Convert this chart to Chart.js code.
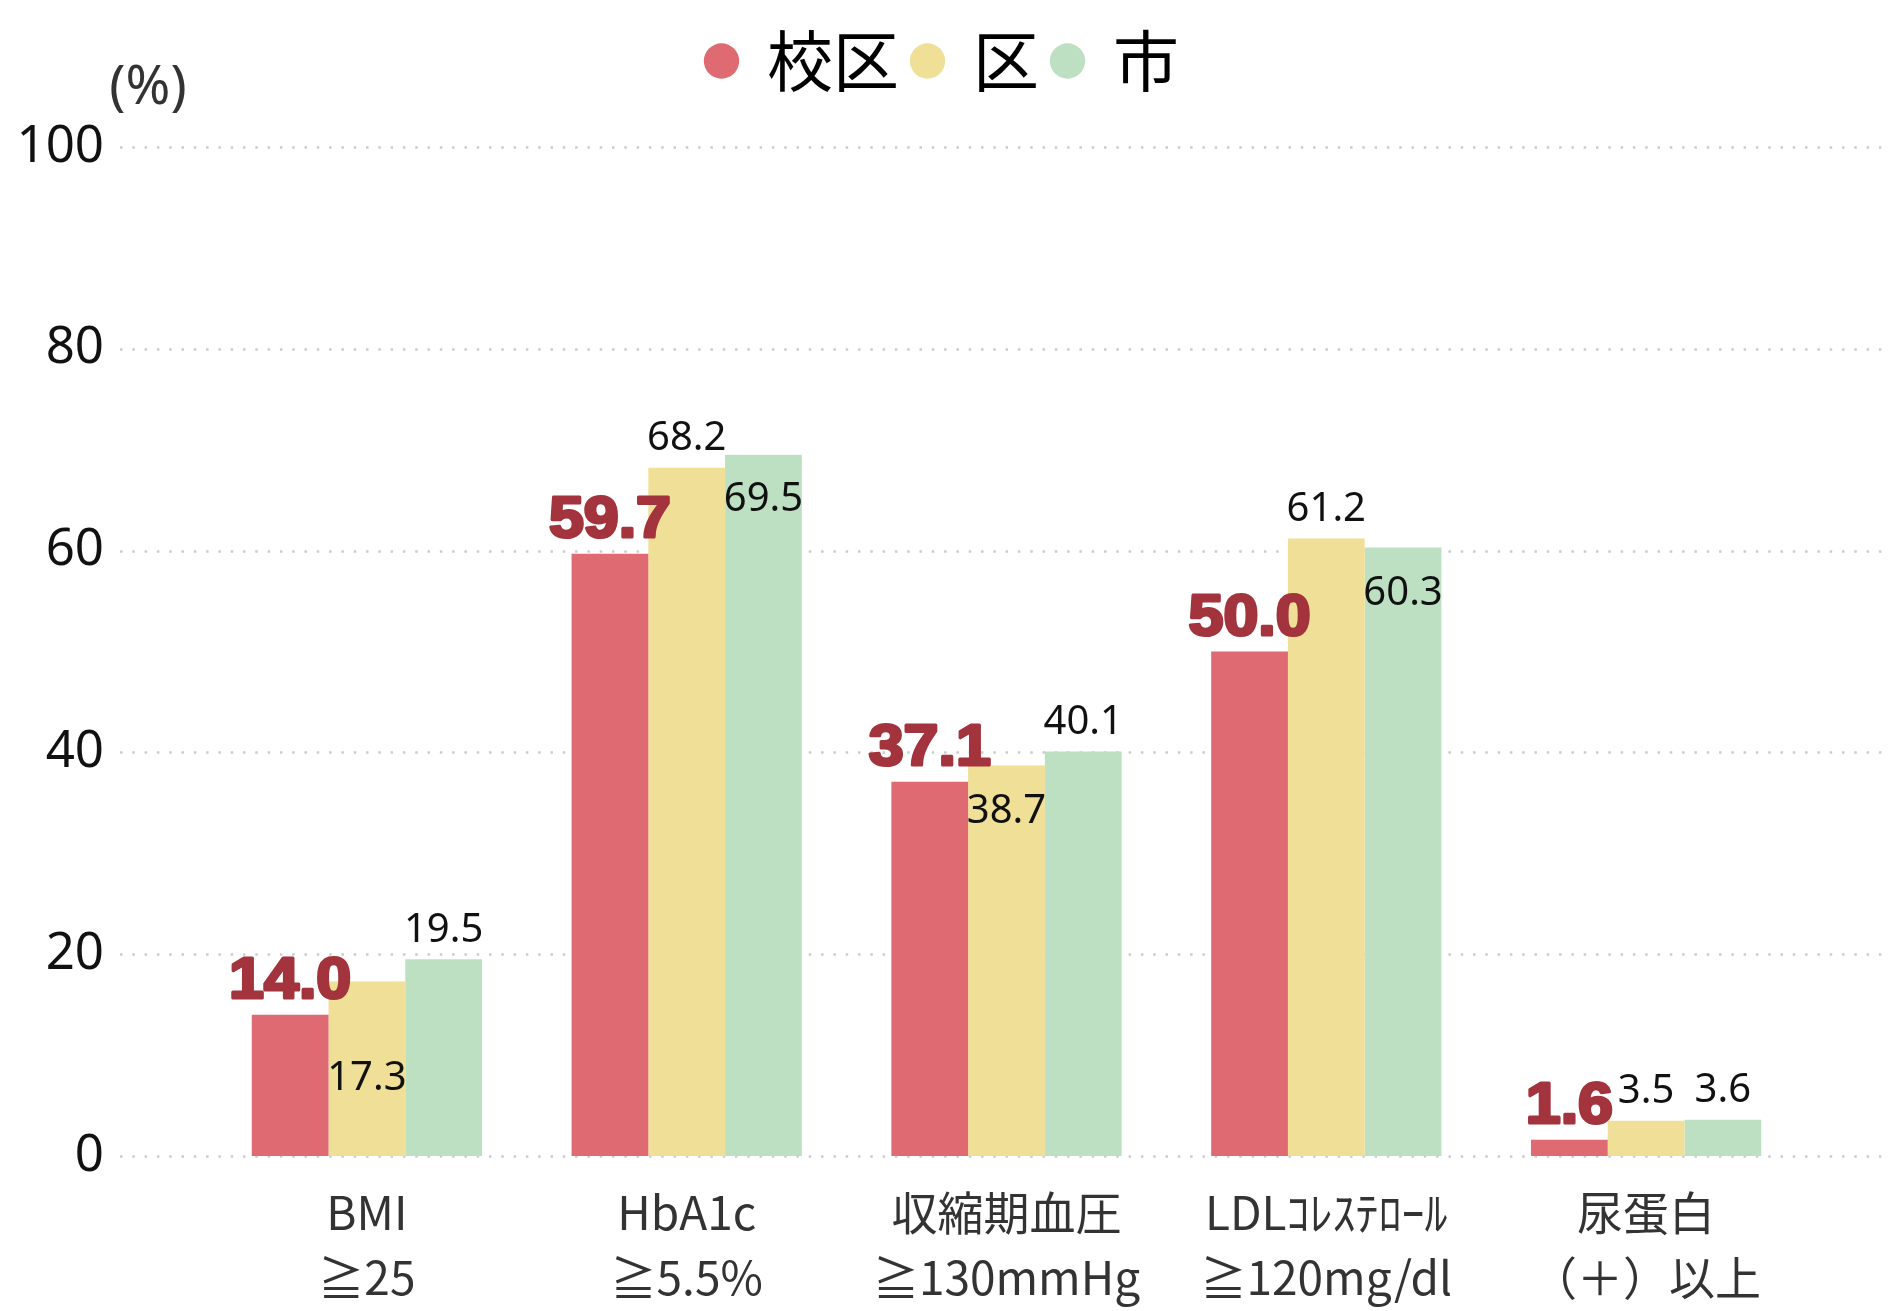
<!DOCTYPE html>
<html lang="ja">
<head>
<meta charset="utf-8">
<title>有所見率</title>
<script src="https://cdn.jsdelivr.net/npm/chart.js@4.4.1/dist/chart.umd.min.js"></script>
<style>
  html, body { margin: 0; padding: 0; background: #fff; }
  canvas { display: block; }
</style>
</head>
<body>
<canvas id="resultChart" width="1888" height="1311"></canvas>
<script>
// data
const categories = [
  ['BMI', '≧25'],
  ['HbA1c', '≧5.5%'],
  ['収縮期血圧', '≧130mmHg'],
  ['LDLｺﾚｽﾃﾛｰﾙ', '≧120mg/dl'],
  ['尿蛋白', '（＋）以上']
];
const schoolArea = [14.0, 59.7, 37.1, 50.0, 1.6];
const ward = [17.3, 68.2, 38.7, 61.2, 3.5];
const city = [19.5, 69.5, 40.1, 60.3, 3.6];
const yTicks = [0, 20, 40, 60, 80, 100];

const JP_FONT = "'Noto Sans CJK JP', 'Noto Sans', sans-serif";

// dotted grid lines, drawn across the full width
const dottedGrid = {
  id: 'dottedGrid',
  beforeDatasetsDraw(chart) {
    const ctx = chart.ctx;
    const y = chart.scales.y;
    ctx.save();
    ctx.strokeStyle = '#cccccc';
    ctx.lineWidth = 2.5;
    ctx.setLineDash([2.5, 9.8]);
    yTicks.forEach(v => {
      const py = Math.round(y.getPixelForValue(v)) + 0.5;
      ctx.beginPath();
      ctx.moveTo(120, py);
      ctx.lineTo(chart.width, py);
      ctx.stroke();
    });
    ctx.restore();
  }
};

// value labels on the bars
const barLabels = {
  id: 'barLabels',
  afterDatasetsDraw(chart) {
    const ctx = chart.ctx;
    chart.data.datasets.forEach((ds, i) => {
      const meta = chart.getDatasetMeta(i);
      meta.data.forEach((bar, j) => {
        const text = ds.data[j].toFixed(1);
        const y = bar.y + ds.labelOffsets[j];
        ctx.save();
        ctx.textAlign = 'center';
        ctx.textBaseline = 'middle';
        if (ds.highlight) {
          ctx.translate(bar.x, y);
          ctx.scale(1.12, 1.04);
          ctx.font = "bold 56px 'Liberation Sans', Arial, sans-serif";
          ctx.fillStyle = '#a3333d';
          ctx.strokeStyle = '#a3333d';
          ctx.lineWidth = 3;
          ctx.lineJoin = 'round';
          ctx.strokeText(text, 0, 0);
          ctx.fillText(text, 0, 0);
        } else {
          ctx.font = "40px 'Noto Sans', sans-serif";
          ctx.fillStyle = '#111';
          ctx.fillText(text, bar.x, y);
        }
        ctx.restore();
      });
    });
  }
};

// unit label and legend spacing
const unitLabel = {
  id: 'unitLabel',
  afterInit(chart) {
    const fit = chart.legend.fit;
    chart.legend.fit = function () {
      fit.call(this);
      this.height = 135;
    };
  },
  afterDraw(chart) {
    const ctx = chart.ctx;
    ctx.save();
    ctx.font = "54px 'Noto Sans', sans-serif";
    ctx.fillStyle = '#333';
    ctx.textAlign = 'center';
    ctx.textBaseline = 'middle';
    ctx.fillText('(%)', 148, 89);
    ctx.restore();
  }
};

new Chart(document.getElementById('resultChart'), {
  type: 'bar',
  data: {
    labels: categories,
    datasets: [
      {
        label: '校区',
        data: schoolArea,
        backgroundColor: '#df6a72',
        highlight: true,
        labelOffsets: [-33, -33, -33, -33, -33]
      },
      {
        label: '区',
        data: ward,
        backgroundColor: '#f0df96',
        labelOffsets: [97, -29, 46, -29, -29]
      },
      {
        label: '市',
        data: city,
        backgroundColor: '#bee0c2',
        labelOffsets: [-29, 45, -29, 46, -29]
      }
    ]
  },
  options: {
    responsive: false,
    animation: false,
    layout: {
      padding: { top: 12, right: 0, left: 0, bottom: 0 }
    },
    datasets: {
      bar: {
        categoryPercentage: 0.72,
        barPercentage: 1.0
      }
    },
    plugins: {
      legend: {
        position: 'top',
        labels: {
          usePointStyle: true,
          pointStyle: 'circle',
          boxWidth: 25,
          boxHeight: 25,
          padding: 16,
          color: '#000',
          font: { family: JP_FONT, size: 66 }
        }
      },
      tooltip: { enabled: false }
    },
    scales: {
      x: {
        grid: { display: false, drawTicks: false },
        border: { display: false },
        ticks: {
          padding: 24,
          color: '#333',
          maxRotation: 0,
          autoSkip: false,
          font: { family: JP_FONT, size: 46, lineHeight: 1.42 }
        },
        afterFit(scale) { scale.height = 155; }
      },
      y: {
        min: 0,
        max: 100,
        grid: { display: false, drawTicks: false },
        border: { display: false },
        afterBuildTicks(scale) {
          scale.ticks = yTicks.map(v => ({ value: v }));
        },
        ticks: {
          padding: 103,
          color: '#111',
          font: { family: "'Noto Sans', sans-serif", size: 51 }
        },
        afterFit(scale) { scale.width = 207; }
      },
      // empty right margin so the legend centres on the whole page
      rightMargin: {
        type: 'linear',
        position: 'right',
        grid: { display: false, drawTicks: false },
        border: { display: false },
        ticks: { display: false },
        afterFit(scale) { scale.width = 82; }
      }
    }
  },
  plugins: [dottedGrid, barLabels, unitLabel]
});
</script>
</body>
</html>
